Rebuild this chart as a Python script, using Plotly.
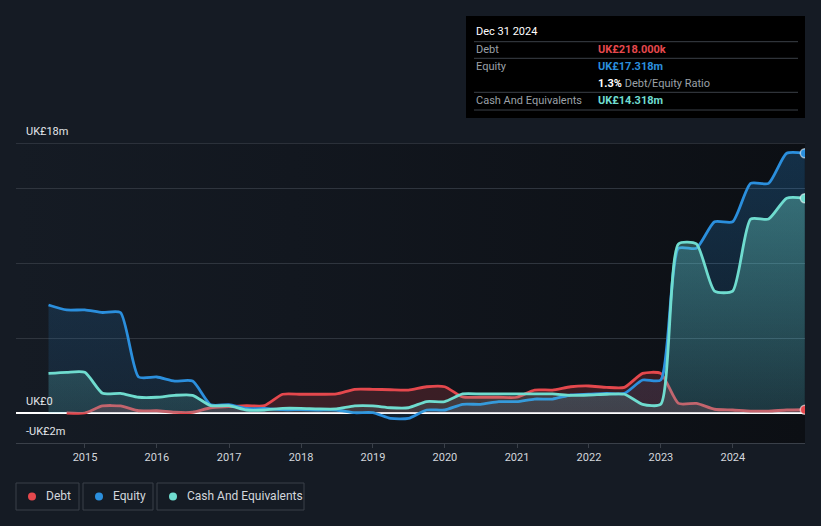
import base64

import pandas as pd
import plotly.graph_objects as go

# quarter ends, Jun 2014 .. Dec 2024 (values in UK£m)
quarters = pd.date_range("2014-06-30", "2024-12-31", freq="QE")

debt = [None, 0.0, 0.0, 0.47, 0.47, 0.15, 0.15, 0.05, 0.05, 0.35, 0.42,
        0.49, 0.49, 1.25, 1.25, 1.25, 1.27, 1.58, 1.58, 1.55, 1.53, 1.75,
        1.75, 1.07, 1.05, 1.05, 1.05, 1.53, 1.53, 1.75, 1.8, 1.71, 1.71,
        2.64, 2.64, 0.64, 0.64, 0.25, 0.2, 0.13, 0.13, 0.2, 0.218]
equity = [7.2, 6.87, 6.87, 6.7, 6.7, 2.4, 2.4, 2.13, 2.13, 0.55, 0.55,
          0.3, 0.3, 0.22, 0.22, 0.2, 0.2, 0.02, 0.02, -0.36, -0.36, 0.2,
          0.2, 0.58, 0.58, 0.76, 0.76, 0.93, 0.93, 1.2, 1.25, 1.31, 1.31,
          2.2, 2.2, 10.98, 10.98, 12.75, 12.75, 15.31, 15.31, 17.318, 17.318]
cash = [2.64, 2.71, 2.71, 1.31, 1.31, 1.05, 1.05, 1.18, 1.18, 0.49, 0.49,
        0.2, 0.2, 0.31, 0.31, 0.27, 0.27, 0.47, 0.47, 0.35, 0.35, 0.76,
        0.76, 1.27, 1.27, 1.27, 1.27, 1.27, 1.27, 1.18, 1.2, 1.25, 1.25,
        0.58, 0.58, 11.27, 11.27, 8.13, 8.13, 12.93, 12.93, 14.318, 14.318]

names = ["Debt", "Equity", "Cash And Equivalents"]
colors = ["#e5484d", "#2b8fdd", "#6fdccf"]
y_labels = [(131, "UK£18m"), (401, "UK£0"), (431, "-UK£2m")]

tooltip_date = "Dec 31 2024"
tooltip_rows = [
    ("Debt", "UK£218.000k", colors[0]),
    ("Equity", "UK£17.318m", colors[1]),
    ("", "<b>1.3%</b> <span style='color:#9ba0a7'>Debt/Equity Ratio</span>", "#ffffff"),
    ("Cash And Equivalents", "UK£14.318m", colors[2]),
]

FONT = "Roboto, Arial, sans-serif"
W, H = 821, 526
L, R, T, B = 16, 16, 143, 83


def pxx(x):
    return (x - L) / (W - L - R)


def pxy(y):
    return (H - B - y) / (H - T - B)


fig = go.Figure()

fills = [
    dict(fillcolor="rgba(229,72,77,0.2)"),
    dict(fillgradient=dict(type="vertical", start=0, stop=18,
                           colorscale=[[0, "rgba(43,143,221,0.10)"],
                                       [1, "rgba(43,143,221,0.26)"]])),
    dict(fillgradient=dict(type="vertical", start=0, stop=15,
                           colorscale=[[0, "rgba(111,220,207,0.14)"],
                                       [1, "rgba(111,220,207,0.38)"]])),
]

for name, values, color, fill in zip(names, [debt, equity, cash], colors, fills):
    xs = [d for d, v in zip(quarters, values) if v is not None]
    ys = [v for v in values if v is not None]
    fig.add_trace(go.Scatter(
        x=xs, y=ys, name=name, mode="lines", fill="tozeroy",
        line=dict(color=color, width=2.8, shape="spline", smoothing=0.6),
        hoverinfo="skip", **fill,
    ))

for values, color in zip([debt, equity, cash], colors):
    fig.add_trace(go.Scatter(
        x=[quarters[-1]], y=[values[-1]], mode="markers",
        marker=dict(size=9, color=color, line=dict(color="rgba(255,255,255,0.55)", width=1.5)),
        hoverinfo="skip",
    ))

annotations = []
shapes = []

# top boundary line at 18m
shapes.append(dict(type="line", xref="paper", yref="y", x0=0, x1=1, y0=18, y1=18,
                   line=dict(color="#454b54", width=1)))

for ly, text in y_labels:
    annotations.append(dict(x=pxx(24), y=pxy(ly), xref="paper", yref="paper", text=text,
                            showarrow=False, xanchor="left", yanchor="middle",
                            font=dict(size=11, color="#e3e6ea", family=FONT)))

# tooltip box
shapes.append(dict(type="rect", xref="paper", yref="paper", x0=pxx(466), x1=pxx(805),
                   y0=pxy(118), y1=pxy(16), fillcolor="#000000", line=dict(width=0)))
for ly in [41.7, 58.3, 92.3, 110]:
    shapes.append(dict(type="line", xref="paper", yref="paper", x0=pxx(474), x1=pxx(798),
                       y0=pxy(ly), y1=pxy(ly), line=dict(color="#3b4048", width=1)))
annotations.append(dict(x=pxx(474), y=pxy(31), xref="paper", yref="paper", text=tooltip_date,
                        showarrow=False, xanchor="left", yanchor="middle",
                        font=dict(size=11, color="#ffffff", family=FONT)))
for (label, value, color), ry in zip(tooltip_rows, [49.5, 66.5, 83, 100]):
    if label:
        annotations.append(dict(x=pxx(474), y=pxy(ry), xref="paper", yref="paper", text=label,
                                showarrow=False, xanchor="left", yanchor="middle",
                                font=dict(size=11, color="#9ba0a7", family=FONT)))
    if color != "#ffffff":
        value = f"<b>{value}</b>"
    annotations.append(dict(x=pxx(596), y=pxy(ry), xref="paper", yref="paper", text=value,
                            showarrow=False, xanchor="left", yanchor="middle",
                            font=dict(size=11, color=color, family=FONT)))

# legend boxes
legend_boxes = [(16, 79), (83, 153), (157, 304)]
for name, color, (x0, x1) in zip(names, colors, legend_boxes):
    shapes.append(dict(type="rect", xref="paper", yref="paper", x0=pxx(x0), x1=pxx(x1),
                       y0=pxy(510), y1=pxy(483), line=dict(color="#3a4049", width=1),
                       fillcolor="rgba(0,0,0,0)"))
    shapes.append(dict(type="circle", xref="paper", yref="paper", x0=pxx(x0 + 12), x1=pxx(x0 + 20),
                       y0=pxy(500.5), y1=pxy(492.5), line=dict(width=0), fillcolor=color))
    annotations.append(dict(x=pxx(x0 + 28), y=pxy(496.5), xref="paper", yref="paper", text=name,
                            showarrow=False, xanchor="left", yanchor="middle",
                            font=dict(size=12, color="#d3d7dc", family=FONT)))

svg = ('<svg xmlns="http://www.w3.org/2000/svg" width="200" height="20" preserveAspectRatio="none">'
       '<defs><linearGradient id="g" x1="0" y1="0" x2="1" y2="0">'
       '<stop offset="0" stop-color="#151b24"/><stop offset="0.35" stop-color="#12171f"/>'
       '<stop offset="1" stop-color="#0c0f14"/></linearGradient></defs>'
       '<rect width="200" height="20" fill="url(#g)"/></svg>')
bg = "data:image/svg+xml;base64," + base64.b64encode(svg.encode()).decode()

fig.update_layout(
    width=W, height=H,
    margin=dict(l=L, r=R, t=T, b=B),
    paper_bgcolor="#151b24",
    plot_bgcolor="rgba(0,0,0,0)",
    showlegend=False,
    font=dict(family=FONT, color="#d3d7dc"),
    images=[dict(source=bg, xref="paper", yref="paper", x=0, y=1, sizex=1, sizey=1,
                 xanchor="left", yanchor="top", sizing="stretch", layer="below")],
    xaxis=dict(
        type="date", range=["2014-01-16", "2025-01-01"],
        tickvals=[f"{y}-01-01" for y in range(2015, 2025)],
        ticktext=[str(y) for y in range(2015, 2025)],
        showgrid=False, zeroline=False,
        showline=True, linecolor="#3a4049", linewidth=1,
        ticks="outside", ticklen=4, tickcolor="#3a4049",
        tickfont=dict(size=11, color="#d3d7dc", family=FONT),
    ),
    yaxis=dict(
        range=[-2, 18], tickvals=[5, 10, 15], showticklabels=False,
        gridcolor="#2f353e", gridwidth=1,
        zeroline=True, zerolinecolor="#ffffff", zerolinewidth=1.5,
    ),
    shapes=shapes,
    annotations=annotations,
)

fig.write_html(
    "out.html",
    config={"displayModeBar": False},
    post_script="document.body.style.margin='0';document.body.style.background='#151b24';",
)
